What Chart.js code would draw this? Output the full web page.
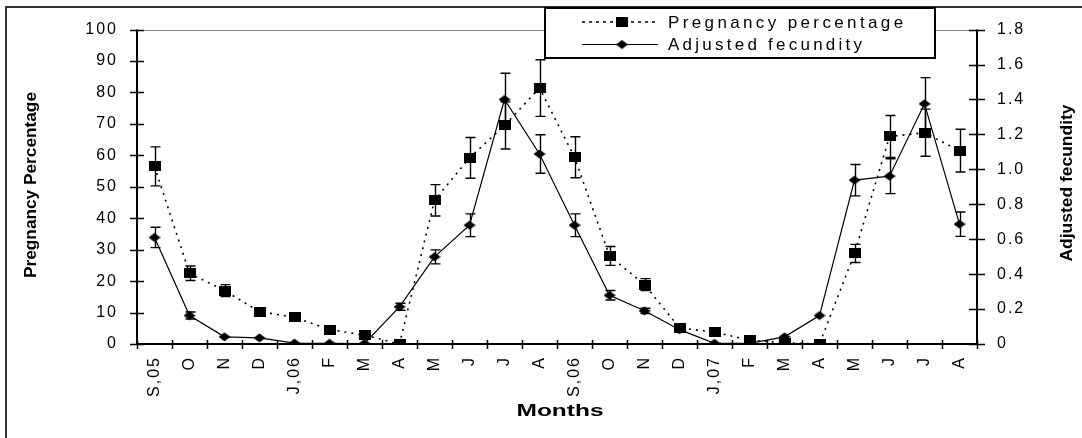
<!DOCTYPE html>
<html>
<head>
<meta charset="utf-8">
<script src="https://cdn.jsdelivr.net/npm/chart.js@4/dist/chart.umd.min.js"></script>
<style>
  html, body { margin: 0; padding: 0; background: #fff; overflow: hidden; }
  canvas { display: block; }
</style>
</head>
<body>
<canvas id="chart" width="1082" height="438"></canvas>
<script>
// Monthly sampling, September 2005 to August 2007
const months = ['S,05', 'O', 'N', 'D', 'J,06', 'F', 'M', 'A', 'M', 'J', 'J', 'A',
                'S,06', 'O', 'N', 'D', 'J,07', 'F', 'M', 'A', 'M', 'J', 'J', 'A'];

// Pregnancy percentage (left axis) with its standard errors
const pregnancyPct = [56.5, 22.5, 17.0, 10.3, 8.5, 4.6, 2.8, 0, 45.7, 59.2, 69.5, 81.4,
                      59.4, 28.0, 18.9, 5.1, 3.8, 1.2, 0.4, 0, 28.8, 66.0, 67.2, 61.5];
const pregnancyErr = [6.2, 2.3, 1.9, 0, 0, 0, 0, 0, 5.0, 6.5, 7.5, 9.0,
                      6.5, 3.0, 1.9, 0, 0, 0, 0, 0, 2.9, 6.7, 7.5, 6.8];

// Adjusted fecundity (right axis) with its standard errors
const fecundity = [0.61, 0.163, 0.041, 0.035, 0.005, 0.004, 0.003, 0.213, 0.499, 0.68, 1.40, 1.088,
                   0.68, 0.279, 0.19, 0.082, 0.004, 0.004, 0.041, 0.163, 0.938, 0.961, 1.375, 0.686];
const fecundityErr = [0.058, 0.02, 0, 0, 0, 0, 0, 0.02, 0.04, 0.065, 0.15, 0.11,
                      0.065, 0.027, 0.015, 0, 0, 0, 0, 0, 0.09, 0.1, 0.15, 0.07];

// Axis tick values
const pctTicks = [0, 10, 20, 30, 40, 50, 60, 70, 80, 90, 100];
const fecTicks = [0, 0.2, 0.4, 0.6, 0.8, 1, 1.2, 1.4, 1.6, 1.8];

const seriesNames = ['Pregnancy percentage', 'Adjusted fecundity'];

// Marker bitmaps: filled square and filled diamond
function makeMarker(kind) {
  const c = document.createElement('canvas');
  c.width = 12; c.height = 10;
  const g = c.getContext('2d');
  g.fillStyle = '#000';
  if (kind === 'square') {
    g.fillRect(0, 0, 12, 10);
  } else {
    g.beginPath();
    g.moveTo(6, 0.5); g.lineTo(12, 5); g.lineTo(6, 9.5); g.lineTo(0, 5);
    g.closePath(); g.fill();
  }
  return c;
}
const squareMark = makeMarker('square');
const diamondMark = makeMarker('diamond');

function stretchedText(ctx, text, cx, cy, width, font, rotated) {
  ctx.save();
  ctx.letterSpacing = '0px';
  ctx.font = font;
  ctx.translate(cx, cy);
  if (rotated) ctx.rotate(-Math.PI / 2);
  const w = ctx.measureText(text).width;
  ctx.scale(width / w, 1);
  ctx.fillStyle = '#000';
  ctx.textAlign = 'center';
  ctx.textBaseline = 'middle';
  ctx.fillText(text, 0, 0);
  ctx.restore();
}

function spacedText(ctx, text, x, y, width, font) {
  ctx.save();
  ctx.font = font;
  ctx.letterSpacing = '0px';
  const w0 = ctx.measureText(text).width;
  const sp = (width - w0) / (text.length - 1);
  ctx.letterSpacing = sp.toFixed(2) + 'px';
  ctx.fillStyle = '#000';
  ctx.textAlign = 'left';
  ctx.textBaseline = 'middle';
  ctx.fillText(text, x, y);
  ctx.restore();
}

const decor = {
  id: 'decor',
  beforeDraw(chart) {
    // Wide-set tick label lettering
    chart.ctx.letterSpacing = '2px';
  },
  beforeDatasetsDraw(chart) {
    const ctx = chart.ctx;
    ctx.letterSpacing = '0px';
    const { x, y, y1 } = chart.scales;
    const area = chart.chartArea;

    ctx.save();
    // Top edge of the plot area
    ctx.strokeStyle = '#8a8a8a';
    ctx.lineWidth = 1;
    ctx.beginPath();
    ctx.moveTo(area.left, Math.round(area.top) + 0.5);
    ctx.lineTo(area.right, Math.round(area.top) + 0.5);
    ctx.stroke();

    // Axis lines
    ctx.strokeStyle = '#000';
    ctx.lineWidth = 2;
    ctx.beginPath();
    ctx.moveTo(area.left, area.top); ctx.lineTo(area.left, area.bottom);
    ctx.moveTo(area.right, area.top); ctx.lineTo(area.right, area.bottom);
    ctx.moveTo(area.left, area.bottom); ctx.lineTo(area.right, area.bottom);
    ctx.stroke();

    // Tick marks crossing the axes
    ctx.lineWidth = 1.5;
    ctx.beginPath();
    pctTicks.forEach(v => {
      const py = Math.round(y.getPixelForValue(v)) + 0.5;
      ctx.moveTo(area.left - 7, py); ctx.lineTo(area.left + 7, py);
    });
    fecTicks.forEach(v => {
      const py = Math.round(y1.getPixelForValue(v)) + 0.5;
      ctx.moveTo(area.right - 8, py); ctx.lineTo(area.right + 8, py);
    });
    const half = (x.getPixelForValue(1) - x.getPixelForValue(0)) / 2;
    for (let i = 0; i <= months.length; i++) {
      const px = Math.round(x.getPixelForValue(i) - half) + 0.5;
      ctx.moveTo(px, area.bottom - 4); ctx.lineTo(px, area.bottom + 5);
    }
    ctx.stroke();

    // Error bars
    ctx.lineWidth = 1.4;
    const drawErr = (vals, errs, scale) => {
      vals.forEach((v, i) => {
        const e = errs[i];
        if (!e) return;
        const px = Math.round(x.getPixelForValue(i)) + 0.5;
        const top = scale.getPixelForValue(v + e);
        const bot = scale.getPixelForValue(Math.max(0, v - e));
        ctx.beginPath();
        ctx.moveTo(px, top); ctx.lineTo(px, bot);
        ctx.moveTo(px - 5, top); ctx.lineTo(px + 5, top);
        ctx.moveTo(px - 5, bot); ctx.lineTo(px + 5, bot);
        ctx.stroke();
      });
    };
    drawErr(pregnancyPct, pregnancyErr, y);
    drawErr(fecundity, fecundityErr, y1);
    ctx.restore();
  },
  afterDraw(chart) {
    const ctx = chart.ctx;
    ctx.save();
    ctx.letterSpacing = '0px';

    // Outer frame (top and left edges)
    ctx.strokeStyle = '#333';
    ctx.lineWidth = 2;
    ctx.beginPath();
    ctx.moveTo(6, 438); ctx.lineTo(6, 7); ctx.lineTo(1082, 7);
    ctx.stroke();

    // Legend box
    ctx.fillStyle = '#fff';
    ctx.fillRect(545, 8, 390, 50);
    ctx.strokeStyle = '#000';
    ctx.lineWidth = 2;
    ctx.strokeRect(545, 8, 390, 50);

    const rows = [22, 44];
    // dotted sample
    ctx.lineWidth = 1.5;
    ctx.setLineDash([3, 4]);
    ctx.beginPath();
    ctx.moveTo(582, rows[0]); ctx.lineTo(658, rows[0]);
    ctx.stroke();
    ctx.setLineDash([]);
    ctx.drawImage(squareMark, 616, rows[0] - 5);
    // solid sample
    ctx.lineWidth = 1.2;
    ctx.beginPath();
    ctx.moveTo(582, rows[1] + 0.5); ctx.lineTo(658, rows[1] + 0.5);
    ctx.stroke();
    ctx.drawImage(diamondMark, 616, rows[1] - 4.5);
    ctx.restore();

    spacedText(ctx, seriesNames[0], 668, rows[0] + 1, 235, '17px "Liberation Sans", Arial, sans-serif');
    spacedText(ctx, seriesNames[1], 668, rows[1] + 1, 194, '17px "Liberation Sans", Arial, sans-serif');

    // Axis titles
    stretchedText(ctx, 'Pregnancy Percentage', 32, 185, 186, 'bold 16px "Liberation Sans", Arial, sans-serif', true);
    stretchedText(ctx, 'Adjusted fecundity', 1068, 183, 157, 'bold 16px "Liberation Sans", Arial, sans-serif', true);
    stretchedText(ctx, 'Months', 560, 411, 87, 'bold 17px "Liberation Sans", Arial, sans-serif', false);
  }
};

new Chart(document.getElementById('chart'), {
  type: 'line',
  data: {
    labels: months,
    datasets: [
      {
        label: seriesNames[0],
        data: pregnancyPct,
        yAxisID: 'y',
        borderColor: '#000',
        borderWidth: 1.6,
        borderDash: [2, 5],
        pointStyle: squareMark,
        pointRadius: 6,
        tension: 0,
        fill: false
      },
      {
        label: seriesNames[1],
        data: fecundity,
        yAxisID: 'y1',
        borderColor: '#000',
        borderWidth: 1.2,
        pointStyle: diamondMark,
        pointRadius: 6,
        tension: 0,
        fill: false
      }
    ]
  },
  options: {
    responsive: false,
    animation: false,
    devicePixelRatio: 1,
    layout: { padding: { top: 23, left: 0, right: 0, bottom: 0 } },
    plugins: { legend: { display: false }, tooltip: { enabled: false } },
    scales: {
      x: {
        offset: true,
        grid: { display: false, drawTicks: false, offset: true },
        border: { display: false },
        ticks: {
          autoSkip: false, minRotation: 90, maxRotation: 90, padding: 12,
          color: '#000', font: { family: '"Liberation Sans", Arial, sans-serif', size: 16 }
        },
        afterFit(s) { s.height = 94; }
      },
      y: {
        position: 'left',
        min: pctTicks[0], max: pctTicks[pctTicks.length - 1],
        grid: { display: false, drawTicks: false },
        border: { display: false },
        ticks: {
          stepSize: pctTicks[1] - pctTicks[0], padding: 19,
          color: '#000', font: { family: '"Liberation Sans", Arial, sans-serif', size: 16 }
        },
        afterFit(s) { s.width = 137; }
      },
      y1: {
        position: 'right',
        min: fecTicks[0], max: fecTicks[fecTicks.length - 1],
        grid: { display: false, drawTicks: false },
        border: { display: false },
        ticks: {
          stepSize: fecTicks[1] - fecTicks[0], padding: 20,
          color: '#000', font: { family: '"Liberation Sans", Arial, sans-serif', size: 16 }
        },
        afterFit(s) { s.width = 105; }
      }
    }
  },
  plugins: [decor]
});
</script>
</body>
</html>
